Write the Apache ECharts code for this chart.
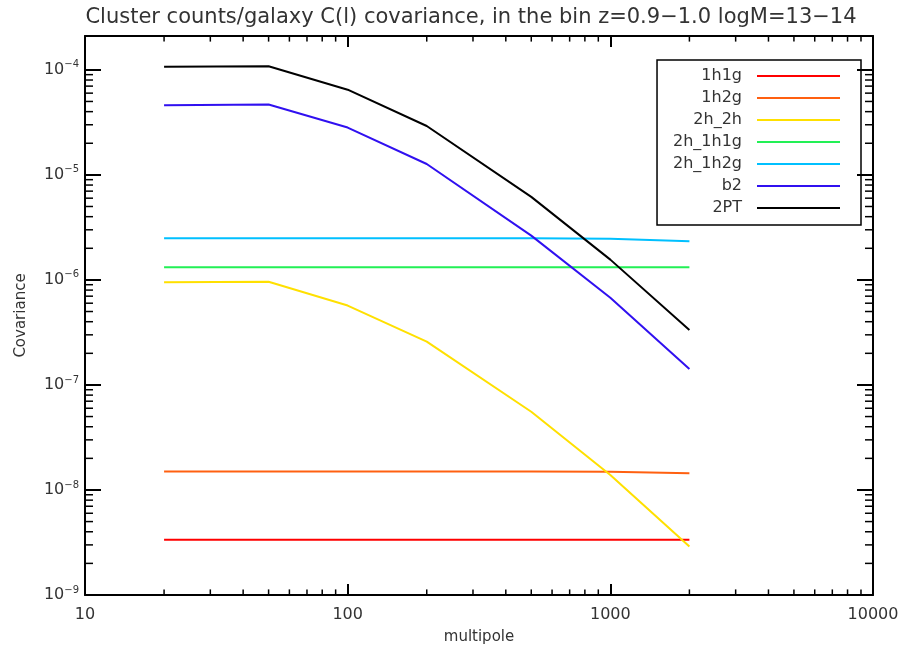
<!DOCTYPE html>
<html><head><meta charset="utf-8">
<script src="https://cdn.jsdelivr.net/npm/echarts@6/dist/echarts.min.js"></script>
<style>html,body{margin:0;padding:0;background:#fff}#c{width:904px;height:650px}</style>
</head><body><div id="c"></div>
<script>
// ---- data ----
const multipole = [20, 50, 100, 200, 500, 1000, 2000];
const v1h1g    = [3.35e-9, 3.35e-9, 3.35e-9, 3.35e-9, 3.35e-9, 3.35e-9, 3.35e-9];
const v1h2g    = [1.50e-8, 1.50e-8, 1.50e-8, 1.50e-8, 1.50e-8, 1.49e-8, 1.44e-8];
const v2h_2h   = [9.5e-7, 9.6e-7, 5.7e-7, 2.58e-7, 5.56e-8, 1.39e-8, 2.9e-9];
const v2h_1h1g = [1.32e-6, 1.32e-6, 1.32e-6, 1.32e-6, 1.32e-6, 1.32e-6, 1.32e-6];
const v2h_1h2g = [2.49e-6, 2.49e-6, 2.49e-6, 2.49e-6, 2.49e-6, 2.46e-6, 2.33e-6];
const vb2      = [4.6e-5, 4.67e-5, 2.82e-5, 1.27e-5, 2.64e-6, 6.76e-7, 1.42e-7];
const v2PT     = [1.07e-4, 1.08e-4, 6.47e-5, 2.92e-5, 6.17e-6, 1.56e-6, 3.33e-7];

const seriesNames  = ['1h1g', '1h2g', '2h_2h', '2h_1h1g', '2h_1h2g', 'b2', '2PT'];
const seriesValues = [v1h1g, v1h2g, v2h_2h, v2h_1h1g, v2h_1h2g, vb2, v2PT];
const seriesColors = ['#ff0000', '#ff6010', '#ffe000', '#22f055', '#00c0ff', '#3010f0', '#000000'];

// tick values
const xMinorTicks = [20, 30, 40, 50, 60, 70, 80, 90,
                     200, 300, 400, 500, 600, 700, 800, 900,
                     2000, 3000, 4000, 5000, 6000, 7000, 8000, 9000];
const yMinorTicks = [2e-9, 3e-9, 4e-9, 5e-9, 6e-9, 7e-9, 8e-9, 9e-9,
                     2e-8, 3e-8, 4e-8, 5e-8, 6e-8, 7e-8, 8e-8, 9e-8,
                     2e-7, 3e-7, 4e-7, 5e-7, 6e-7, 7e-7, 8e-7, 9e-7,
                     2e-6, 3e-6, 4e-6, 5e-6, 6e-6, 7e-6, 8e-6, 9e-6,
                     2e-5, 3e-5, 4e-5, 5e-5, 6e-5, 7e-5, 8e-5, 9e-5];

const X_MIN = 10, X_MAX = 10000, Y_MIN = 1e-9, Y_MAX = 2.1e-4;
const FONT = 'DejaVu Sans';
const TXT = '#333';

function xAxisDef(pos, showLabel) {
  return {
    type: 'log', logBase: 10, min: X_MIN, max: X_MAX, position: pos,
    name: showLabel ? 'multipole' : '', nameLocation: 'middle', nameGap: 35,
    nameTextStyle: {fontFamily: FONT, fontSize: 15, color: TXT},
    axisLine: {show: true, onZero: false, lineStyle: {color: '#000', width: 2}},
    axisTick: {show: true, inside: true, length: 11, lineStyle: {color: '#000', width: 2}},
    minorTick: {show: false},
    splitLine: {show: false},
    axisLabel: {show: showLabel, margin: 12, fontFamily: FONT, fontSize: 16, color: TXT,
      formatter: v => String(Math.round(v))}
  };
}
function yAxisDef(pos, showLabel) {
  return {
    type: 'log', logBase: 10, min: Y_MIN, max: Y_MAX, position: pos,
    name: showLabel ? 'Covariance' : '', nameLocation: 'middle', nameGap: 56,
    nameTextStyle: {fontFamily: FONT, fontSize: 15, color: TXT},
    axisLine: {show: true, onZero: false, lineStyle: {color: '#000', width: 2}},
    axisTick: {show: true, inside: true, length: 16, lineStyle: {color: '#000', width: 2}},
    minorTick: {show: false},
    splitLine: {show: false},
    axisLabel: {show: showLabel, margin: 6, showMaxLabel: false,
      formatter: function (v) {
        const l = Math.log10(v);
        const e = Math.round(l);
        if (Math.abs(l - e) > 1e-6) return '';
        return '{b|10}{s|' + (e < 0 ? '\u2212' : '') + Math.abs(e) + '}';
      },
      rich: {
        b: {fontFamily: FONT, fontSize: 16, color: TXT, lineHeight: 20},
        s: {fontFamily: FONT, fontSize: 10, color: TXT, lineHeight: 10, verticalAlign: 'top'}
      }
    }
  };
}

const lineSeries = seriesNames.map((name, i) => ({
  name: name, type: 'line', xAxisIndex: 0, yAxisIndex: 0,
  data: multipole.map((m, j) => [m, seriesValues[i][j]]),
  showSymbol: false, symbol: 'none', animation: false,
  lineStyle: {color: seriesColors[i], width: 2},
  itemStyle: {color: seriesColors[i]},
  z: 3
}));

const minorX = {
  type: 'custom', name: 'xminor', xAxisIndex: 0, yAxisIndex: 0, silent: true, animation: false, z: 4,
  data: xMinorTicks.map(v => [v, Y_MIN]),
  renderItem: function (params, api) {
    const v = api.value(0);
    const b = api.coord([v, Y_MIN]);
    const t = api.coord([v, Y_MAX]);
    const st = {stroke: '#000', lineWidth: 1.5};
    return {type: 'group', children: [
      {type: 'line', shape: {x1: b[0], y1: b[1], x2: b[0], y2: b[1] - 5.6}, style: st},
      {type: 'line', shape: {x1: t[0], y1: t[1], x2: t[0], y2: t[1] + 5.6}, style: st}
    ]};
  }
};
const minorY = {
  type: 'custom', name: 'yminor', xAxisIndex: 0, yAxisIndex: 0, silent: true, animation: false, z: 4,
  data: yMinorTicks.map(v => [X_MIN, v]),
  renderItem: function (params, api) {
    const v = api.value(1);
    const l = api.coord([X_MIN, v]);
    const r = api.coord([X_MAX, v]);
    const st = {stroke: '#000', lineWidth: 1.5};
    return {type: 'group', children: [
      {type: 'line', shape: {x1: l[0], y1: l[1], x2: l[0] + 8, y2: l[1]}, style: st},
      {type: 'line', shape: {x1: r[0], y1: r[1], x2: r[0] - 8, y2: r[1]}, style: st}
    ]};
  }
};

const chart = echarts.init(document.getElementById('c'), null, {renderer: 'canvas'});
chart.setOption({
  backgroundColor: '#fff',
  animation: false,
  title: {
    text: 'Cluster counts/galaxy C(l) covariance, in the bin z=0.9\u22121.0 logM=13\u221214',
    left: 471, top: 7, textAlign: 'center', padding: 0,
    textStyle: {fontFamily: FONT, fontSize: 21, fontWeight: 'normal', color: TXT}
  },
  grid: {left: 85, right: 31, top: 36, bottom: 50, containLabel: false},
  legend: {
    data: seriesNames, orient: 'vertical', align: 'right', right: 43, top: 60,
    icon: 'rect', itemWidth: 83, itemHeight: 2, itemGap: 6,
    padding: [8, 21, 9, 16], borderColor: '#000', borderWidth: 1.5,
    selectedMode: false,
    textStyle: {fontFamily: FONT, fontSize: 16, color: TXT, lineHeight: 16, padding: [0, 10, 0, 0]}
  },
  xAxis: [xAxisDef('bottom', true), xAxisDef('top', false)],
  yAxis: [yAxisDef('left', true), yAxisDef('right', false)],
  series: lineSeries.concat([minorX, minorY])
});
</script>
</body></html>
